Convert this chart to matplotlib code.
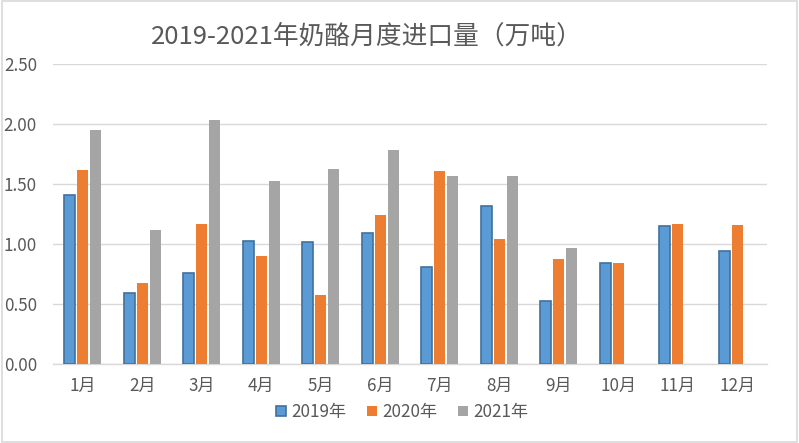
import matplotlib
matplotlib.use("Agg")
import matplotlib.pyplot as plt
import numpy as np
from matplotlib.patches import Rectangle

plt.rcParams['font.family'] = ['Noto Sans CJK SC', 'DejaVu Sans']

months = ['1月', '2月', '3月', '4月', '5月', '6月', '7月', '8月', '9月', '10月', '11月', '12月']
y2019 = [1.41, 0.59, 0.76, 1.03, 1.02, 1.09, 0.81, 1.32, 0.53, 0.84, 1.15, 0.94]
y2020 = [1.62, 0.68, 1.17, 0.90, 0.58, 1.24, 1.61, 1.04, 0.88, 0.84, 1.17, 1.16]
y2021 = [1.95, 1.12, 2.03, 1.53, 1.63, 1.78, 1.57, 1.57, 0.97, None, None, None]
series_names = ['2019年', '2020年', '2021年']
yticks = [0.0, 0.5, 1.0, 1.5, 2.0, 2.5]
title = '2019-2021年奶酪月度进口量（万吨）'

colors = ['#5B9BD5', '#ED7D31', '#A5A5A5']
edges = ['#41719C', 'none', 'none']
txt = '#595959'
grid = '#D9D9D9'

fig = plt.figure(figsize=(7.99, 4.43), dpi=100)
ax = fig.add_axes([53/799, 1-364.3/443, (767-53)/799, (364.3-64)/443])

x = np.arange(len(months))
w = 0.185
offs = [-0.22, 0.0, 0.22]
for i, (vals, name) in enumerate(zip([y2019, y2020, y2021], series_names)):
    xs = [xx + offs[i] for xx, v in zip(x, vals) if v is not None]
    vs = [v for v in vals if v is not None]
    ax.bar(xs, vs, width=w, color=colors[i], edgecolor=edges[i],
           linewidth=1.2 if edges[i] != 'none' else 0, label=name, zorder=3)

ax.set_xlim(-0.5, len(months) - 0.5)
ax.set_ylim(0, 2.5)
ax.set_yticks(yticks)
ax.set_yticklabels([f'{t:.2f}' for t in yticks])
ax.set_xticks(x)
ax.set_xticklabels(months)
ax.tick_params(axis='both', length=0, labelsize=12.3, colors=txt)
ax.tick_params(axis='y', pad=11.5)
ax.tick_params(axis='x', pad=9)
ax.yaxis.grid(True, color=grid, linewidth=1.0, zorder=0)
for s in ['top', 'right', 'left']:
    ax.spines[s].set_visible(False)
ax.spines['bottom'].set_color(grid)
ax.spines['bottom'].set_linewidth(1.0)

fig.text(367/799, 1-37/443, title, ha='center', va='center', fontsize=18.5, color=txt)

leg = fig.legend(loc='center', bbox_to_anchor=(402/799, 1-412/443), ncol=3, frameon=False,
                 fontsize=12.3, handlelength=0.6, handleheight=0.6, handletextpad=0.3,
                 columnspacing=1.2, labelcolor=txt)

fig.patches.append(Rectangle((0.002, 0.002), 0.996, 0.996, transform=fig.transFigure,
                             fill=False, edgecolor=grid, linewidth=1.2))

fig.savefig('out.png', dpi=100)
